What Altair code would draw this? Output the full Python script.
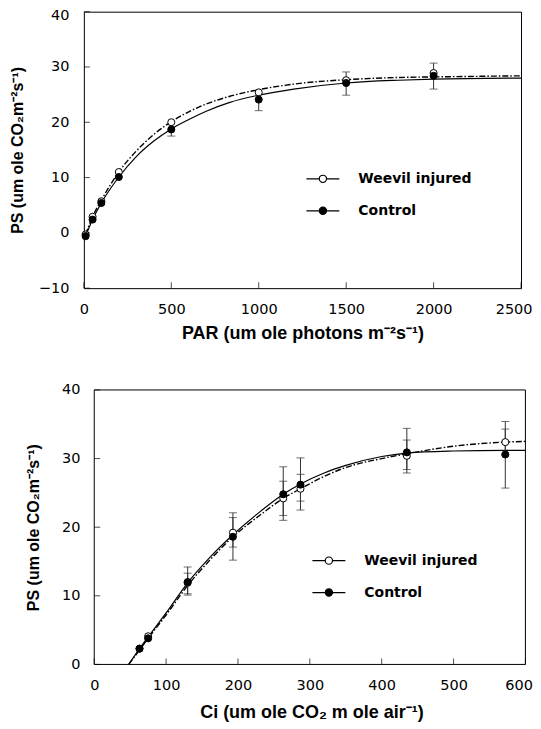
import altair as alt
import pandas as pd

# ---------------- Top panel (PAR response) ----------------
par_x = [10, 50, 100, 200, 500, 1000, 1500, 2000]
par_weevil = [-0.3, 2.9, 5.7, 11.0, 20.0, 25.4, 27.6, 28.9]
par_weevil_hi = [None, None, None, None, None, None, 29.1, 30.7]
par_control = [-0.6, 2.4, 5.4, 10.1, 18.7, 24.1, 27.1, 28.4]
par_control_lo = [None, None, None, None, 17.5, 22.1, 24.9, 26.0]

par_curve_x = [10, 50, 100, 200, 300, 400, 500, 600, 700, 835, 1000, 1200, 1500, 1800, 2000, 2500]
par_curve_weevil = [-0.3, 2.9, 5.9, 11.0, 14.8, 17.8, 20.1, 21.9, 23.3, 24.7, 25.9, 26.9, 27.7, 28.1, 28.2, 28.4]
par_curve_control = [-0.6, 2.4, 5.4, 10.1, 13.8, 16.6, 18.8, 20.5, 22.0, 23.6, 24.9, 26.0, 27.1, 27.6, 27.8, 28.0]

# ---------------- Bottom panel (Ci response) ----------------
ci_x = [63, 75, 130, 193, 263, 287, 435, 572]
ci_weevil = [2.3, 4.1, 11.9, 19.2, 24.2, 25.6, 30.4, 32.4]
ci_weevil_lo = [None, None, 10.3, 17.1, 21.7, 23.8, 28.4, 30.5]
ci_weevil_hi = [None, None, 13.3, 21.4, 26.7, 27.7, 32.7, 34.3]
ci_control = [2.3, 3.8, 12.0, 18.6, 24.8, 26.2, 30.9, 30.6]
ci_control_lo = [None, None, 10.1, 15.2, 21.0, 22.5, 27.9, 25.7]
ci_control_hi = [None, None, 14.2, 22.1, 28.8, 30.1, 34.4, 35.4]

ci_curve_x = [48, 63, 75, 100, 130, 160, 193, 230, 263, 287, 320, 350, 400, 435, 500, 572, 600]
ci_curve_weevil = [0, 2.1, 3.8, 7.2, 11.5, 15.1, 18.6, 21.7, 24.2, 25.6, 27.4, 28.7, 30.0, 30.7, 31.8, 32.4, 32.5]
ci_curve_control = [0, 2.3, 4.0, 7.5, 11.9, 15.5, 18.9, 22.2, 24.8, 26.3, 27.9, 29.0, 30.3, 30.8, 31.1, 31.2, 31.2]

series_names = ["Weevil injured", "Control"]

par_ticks_x = [0, 500, 1000, 1500, 2000, 2500]
par_ticks_y = [-10, 0, 10, 20, 30, 40]
ci_ticks_x = [0, 100, 200, 300, 400, 500, 600]
ci_ticks_y = [0, 10, 20, 30, 40]

par_xtitle = "PAR (um ole photons m\u207b\u00b2s\u207b\u00b9)"
par_ytitle = "PS (um ole CO\u2082m\u207b\u00b2s\u207b\u00b9)"
ci_xtitle = "Ci (um ole CO\u2082 m ole air\u207b\u00b9)"
ci_ytitle = "PS (um ole CO\u2082m\u207b\u00b2s\u207b\u00b9)"

LEGEND_PATH = ("M-1,0L-0.22,0M0.22,0A0.22,0.22,0,1,1,-0.22,0"
               "A0.22,0.22,0,1,1,0.22,0ZM0.22,0L1,0")


def points_df(x, w, c):
    rows = []
    for xi, yi in zip(x, w):
        rows.append({"series": series_names[0], "x": xi, "y": yi})
    for xi, yi in zip(x, c):
        rows.append({"series": series_names[1], "x": xi, "y": yi})
    return pd.DataFrame(rows)


def err_df(x, center, ends):
    rows = []
    for xi, ci, e in zip(x, center, ends):
        if e is not None:
            rows.append({"x": xi, "y1": ci, "y2": e})
    return rows


def panel(pts, cx, cw, cc, errs, xdom, ydom, xvals, yvals, w, h,
          xtitle, ytitle, legx, legy, xlabpad, xtitlepad, ylabpad, ytitlepad,
          last_shift, top_label_shift=0, xtitle_x=None, frame=False):
    xs = alt.Scale(domain=xdom, nice=False, zero=False)
    ys = alt.Scale(domain=ydom, nice=False, zero=False)

    last = xvals[-1]
    test = "datum.value == %s" % last
    xargs = dict(values=xvals, ticks=False, domain=False, grid=False,
                 labelPadding=xlabpad, titlePadding=xtitlepad, title=xtitle,
                 labelFlush=False, labelOverlap=False, format="d",
                 labelAlign={"condition": {"test": test, "value": "right"},
                             "value": "center"},
                 labelOffset={"condition": {"test": test, "value": last_shift},
                              "value": 0})
    if xtitle_x is not None:
        xargs["titleX"] = xtitle_x
    xaxis = alt.Axis(**xargs)
    ytest = "datum.value == %s" % yvals[-1]
    yaxis = alt.Axis(values=yvals, ticks=False, domain=False, grid=False,
                     labelPadding=ylabpad, titlePadding=ytitlepad, title=ytitle,
                     labelOverlap=False, format="d",
                     labelOffset={"condition": {"test": ytest,
                                                "value": top_label_shift},
                                  "value": 0})

    X = lambda f: alt.X(f, scale=xs, axis=None)
    Y = lambda f: alt.Y(f, scale=ys, axis=None)

    curve_w = pd.DataFrame({"x": cx, "y": cw})
    curve_c = pd.DataFrame({"x": cx, "y": cc})

    wl = alt.Chart(curve_w).mark_line(
        color="black", strokeWidth=1.4, strokeDash=[6, 2, 1.5, 2],
        interpolate="monotone").encode(
        x=alt.X("x:Q", scale=xs, axis=xaxis),
        y=alt.Y("y:Q", scale=ys, axis=yaxis))
    cl = alt.Chart(curve_c).mark_line(
        color="black", strokeWidth=1.2, interpolate="monotone").encode(
        x=X("x:Q"), y=Y("y:Q"))

    edf = pd.DataFrame(errs)
    rules = alt.Chart(edf).mark_rule(color="#333333", strokeWidth=1).encode(
        x=X("x:Q"), y=Y("y1:Q"), y2="y2:Q")
    caps = alt.Chart(edf).mark_tick(
        orient="horizontal", size=8, thickness=1, color="#333333").encode(
        x=X("x:Q"), y=Y("y2:Q"))

    legend = alt.Legend(
        orient="none", legendX=legx, legendY=legy, title=None,
        symbolType=LEGEND_PATH, symbolSize=1089, symbolStrokeColor="black",
        symbolStrokeWidth=1.2, symbolOpacity=1,
        labelFont="DejaVu Sans", labelFontWeight="bold",
        labelFontSize=14, labelColor="black", labelOffset=18, rowPadding=7,
        padding=0)
    pts_layer = alt.Chart(pts).mark_point(
        filled=True, stroke="black", strokeWidth=1, opacity=1, size=50).encode(
        x=X("x:Q"), y=Y("y:Q"),
        fill=alt.Fill("series:N", scale=alt.Scale(domain=series_names,
                                                   range=["white", "black"]),
                      legend=legend))

    # inward tick marks on the left and bottom edges
    ytk = pd.DataFrame({"x": [0] * len(yvals), "y": yvals})
    xtk = pd.DataFrame({"x": xvals, "y": [ydom[0]] * len(xvals)})
    ytick_layer = alt.Chart(ytk).mark_tick(
        orient="horizontal", size=6, thickness=1, color="black", xOffset=3).encode(
        x=X("x:Q"), y=Y("y:Q"))
    xtick_layer = alt.Chart(xtk).mark_tick(
        orient="vertical", size=6, thickness=1, color="black", yOffset=-3).encode(
        x=X("x:Q"), y=Y("y:Q"))

    layers = [wl, cl, rules, caps, pts_layer, ytick_layer, xtick_layer]
    props = dict(width=w, height=h)
    if frame:
        fx0, fx1 = 0, xdom[1]
        fy0, fy1 = ydom
        fdf = pd.DataFrame({"x": [fx0, fx1, fx0, fx0], "x2": [fx0, fx1, fx1, fx1],
                            "y": [fy0, fy0, fy0, fy1], "y2": [fy1, fy1, fy0, fy1]})
        fr = alt.Chart(fdf).mark_rule(color="black", strokeWidth=1).encode(
            x=X("x:Q"), x2="x2:Q", y=Y("y:Q"), y2="y2:Q")
        layers.append(fr)
        props["view"] = alt.ViewBackground(stroke="transparent")
    return alt.layer(*layers).resolve_axis(
        x="independent", y="independent").properties(**props)


top_pts = points_df(par_x, par_weevil, par_control)
top_errs = err_df(par_x, par_weevil, par_weevil_hi) + err_df(par_x, par_control, par_control_lo)

bot_pts = points_df(ci_x, ci_weevil, ci_control)
bot_errs = (err_df(ci_x, ci_weevil, ci_weevil_lo) + err_df(ci_x, ci_weevil, ci_weevil_hi)
            + err_df(ci_x, ci_control, ci_control_lo) + err_df(ci_x, ci_control, ci_control_hi))

TOP_W, TOP_H = 438, 277
BOT_W, BOT_H = 432, 275
STRIP = 10.4  # bottom plot sits further right than the top one
strip_units = 600 * STRIP / BOT_W

top = panel(top_pts, par_curve_x, par_curve_weevil, par_curve_control, top_errs,
            [0, 2500], [-10, 40], par_ticks_x, par_ticks_y, TOP_W, TOP_H,
            par_xtitle, par_ytitle, 222, 150,
            xlabpad=14, xtitlepad=9, ylabpad=15, ytitlepad=13, last_shift=11,
            top_label_shift=4)

bottom = panel(bot_pts, ci_curve_x, ci_curve_weevil, ci_curve_control, bot_errs,
               [-strip_units, 600], [0, 40], ci_ticks_x, ci_ticks_y,
               BOT_W + STRIP, BOT_H,
               ci_xtitle, ci_ytitle, 228, 153.5,
               xlabpad=14, xtitlepad=12, ylabpad=4, ytitlepad=20, last_shift=7,
               xtitle_x=228, frame=True)

chart = alt.vconcat(top, bottom, spacing=38).resolve_scale(
    x="independent", y="independent", fill="independent"
).properties(
    padding={"left": 0, "top": -2, "right": 0, "bottom": 0}
).configure_view(
    stroke="black", strokeWidth=1
).configure_axis(
    labelFont="DejaVu Sans", labelFontSize=14.5, labelColor="black",
    titleFont="Liberation Sans", titleFontWeight="bold", titleFontSize=17,
    titleColor="black"
).configure_axisX(titleFontSize=18).configure_axisY(titleFontSize=16)

chart.save("out.html", embed_options={"renderer": "svg", "actions": False})
